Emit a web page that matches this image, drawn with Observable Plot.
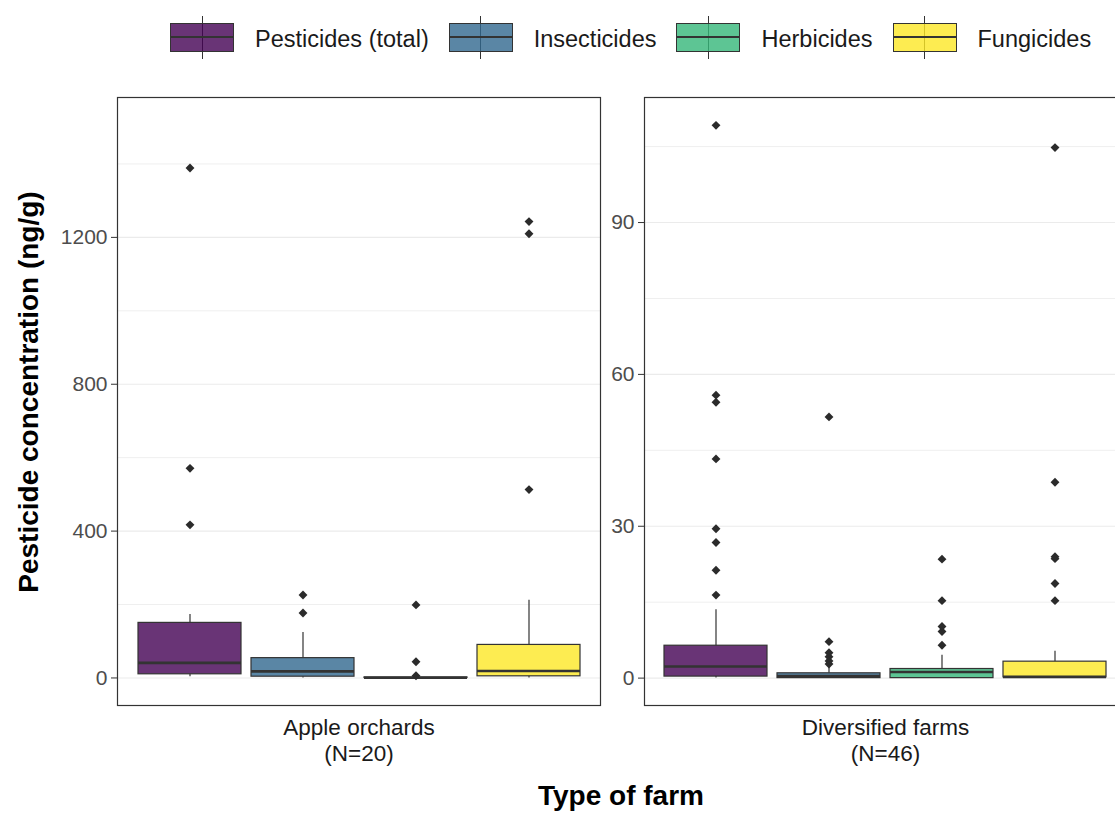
<!DOCTYPE html>
<html>
<head>
<meta charset="utf-8">
<script src="https://cdn.jsdelivr.net/npm/d3@7"></script>
<script src="https://cdn.jsdelivr.net/npm/@observablehq/plot@0.6"></script>
<style>
  html, body { margin: 0; padding: 0; background: #fff; }
  #wrap { position: relative; width: 1115px; height: 814px; overflow: hidden; background: #fff;
          font-family: "Liberation Sans", Arial, sans-serif; }
  #legend { position: absolute; top: 16px; left: 170px; display: flex; align-items: center; height: 43px; }
  .sw { position: relative; width: 64px; height: 43px; margin-right: 21px; }
  .sw .wh { position: absolute; left: 31.5px; top: 0; width: 1px; height: 43px; background: #333; }
  .sw .bx { position: absolute; left: 0; top: 7px; width: 62px; height: 27px; border: 1px solid #333; z-index: 1; }
  .sw .md { position: absolute; left: 0; top: 20px; width: 64px; height: 2px; background: #333; z-index: 2; }
  .lt { font-size: 23.5px; color: #1a1a1a; margin-right: 20px; white-space: nowrap; padding-top: 4px; }
  .panel { position: absolute; top: 80px; width: 560px; }
  .panel svg { max-width: none !important; }
  #ytitle { position: absolute; left: 29px; top: 392px; transform: translate(-50%, -50%) rotate(-90deg);
            font-size: 28px; font-weight: bold; white-space: nowrap; color: #000; }
  #xtitle { position: absolute; left: 621px; top: 796px; transform: translate(-50%, -50%);
            font-size: 28px; font-weight: bold; white-space: nowrap; color: #000; }
</style>
</head>
<body>
<div id="wrap">
  <div id="legend"></div>
  <div id="p1" class="panel" style="left:0px; width:610px"></div>
  <div id="p2" class="panel" style="left:600px; width:560px"></div>
  <div id="ytitle">Pesticide concentration (ng/g)</div>
  <div id="xtitle">Type of farm</div>
</div>
<script>
// ---- data ----
const types = ["Pesticides (total)", "Insecticides", "Herbicides", "Fungicides"];
const typeColors = ["#440154", "#31688E", "#35B779", "#FDE725"];

const farmLabels = ["Apple orchards\n(N=20)", "Diversified farms\n(N=46)"];

// Apple orchards (N=20)
const appleQ1 = [10, 3.5, 0, 4.5];
const appleMedian = [41, 18, 0.5, 19];
const appleQ3 = [150, 54, 1.5, 90];
const appleLow = [3.5, 0, 0, 0];
const appleHigh = [173, 124, 2, 212];
const appleOutliers = [[417, 571, 1389], [177, 226], [6, 44, 199], [513, 1210, 1243]];
const appleTicks = [0, 400, 800, 1200];
const appleMinor = [200, 600, 1000, 1400];
const appleDomain = [-75, 1581];

// Diversified farms (N=46)
const divQ1 = [0.3, 0, 0, 0.15];
const divMedian = [2.3, 0.4, 1.2, 0.25];
const divQ3 = [6.4, 0.95, 1.8, 3.25];
const divLow = [0, 0, 0, 0];
const divHigh = [13.5, 2.1, 4.5, 5.3];
const divOutliers = [
  [16.4, 21.3, 26.8, 29.5, 43.3, 54.5, 55.9, 109.2],
  [2.8, 3.4, 4.2, 5.0, 7.2, 51.6],
  [6.5, 9.2, 10.2, 15.3, 23.5],
  [15.3, 18.7, 23.6, 24.0, 38.7, 104.8]
];
const divTicks = [0, 30, 60, 90];
const divMinor = [15, 45, 75, 105];
const divDomain = [-5.41, 114.7];

// ---- legend ----
const legend = document.getElementById("legend");
types.forEach((t, i) => {
  const c = d3.color(typeColors[i]); c.opacity = 0.8;
  const sw = document.createElement("div");
  sw.className = "sw";
  sw.innerHTML = `<div class="wh"></div><div class="bx" style="background:${c.formatRgb()}"></div><div class="md"></div>`;
  const lt = document.createElement("div");
  lt.className = "lt";
  lt.textContent = t;
  legend.appendChild(sw);
  legend.appendChild(lt);
});

// ---- panels ----
function panel({q1, med, q3, lo, hi, outliers, domain, ticks, minor, label, marginLeft, panelWidth}) {
  const boxes = types.map((t, i) => ({type: t, q1: q1[i], med: med[i], q3: q3[i], lo: lo[i], hi: hi[i]}));
  const outs = types.flatMap((t, i) => outliers[i].map(v => ({type: t, value: v})));
  const width = marginLeft + panelWidth + 1;
  return Plot.plot({
    width, height: 720,
    marginLeft, marginRight: 1, marginTop: 17, marginBottom: 95,
    style: {fontFamily: '"Liberation Sans", Arial, sans-serif', background: "transparent", overflow: "visible", maxWidth: "none"},
    x: {type: "band", domain: types, paddingInner: 0.09, paddingOuter: 0,
        range: [marginLeft + 20, marginLeft + panelWidth - 20], axis: null},
    y: {domain, axis: null},
    color: {domain: types, range: typeColors},
    marks: [
      Plot.ruleY(minor, {stroke: "#EFEFEF", strokeWidth: 1}),
      Plot.ruleY(ticks, {stroke: "#EBEBEB", strokeWidth: 1.1}),
      Plot.ruleX(boxes, {x: "type", y1: "q3", y2: "hi", stroke: "#333", strokeWidth: 1.2}),
      Plot.ruleX(boxes, {x: "type", y1: "lo", y2: "q1", stroke: "#333", strokeWidth: 1.2}),
      Plot.barY(boxes, {x: "type", y1: "q1", y2: "q3", fill: "type", fillOpacity: 0.8, stroke: "#333", strokeWidth: 1.2}),
      Plot.tickY(boxes, {x: "type", y: "med", stroke: "#333", strokeWidth: 2.6}),
      Plot.dot(outs, {x: "type", y: "value", symbol: "diamond2", r: 4, fill: "#2b2b2b", stroke: "none"}),
      Plot.frame({stroke: "#333", strokeWidth: 1.2}),
      Plot.axisY(ticks, {anchor: "left", tickSize: 6, tickPadding: 4, fontSize: 21, color: "#333", fill: "#4D4D4D",
                         tickFormat: d3.format("d"), label: null}),
      Plot.text([label], {frameAnchor: "bottom", lineAnchor: "top", dy: 11, fontSize: 22.5, fill: "#1a1a1a", lineHeight: 1.15})
    ]
  });
}

document.getElementById("p1").appendChild(panel({
  q1: appleQ1, med: appleMedian, q3: appleQ3, lo: appleLow, hi: appleHigh, outliers: appleOutliers,
  domain: appleDomain, ticks: appleTicks, minor: appleMinor, label: farmLabels[0],
  marginLeft: 117, panelWidth: 483
}));
document.getElementById("p2").appendChild(panel({
  q1: divQ1, med: divMedian, q3: divQ3, lo: divLow, hi: divHigh, outliers: divOutliers,
  domain: divDomain, ticks: divTicks, minor: divMinor, label: farmLabels[1],
  marginLeft: 44, panelWidth: 482
}));
</script>
</body>
</html>
